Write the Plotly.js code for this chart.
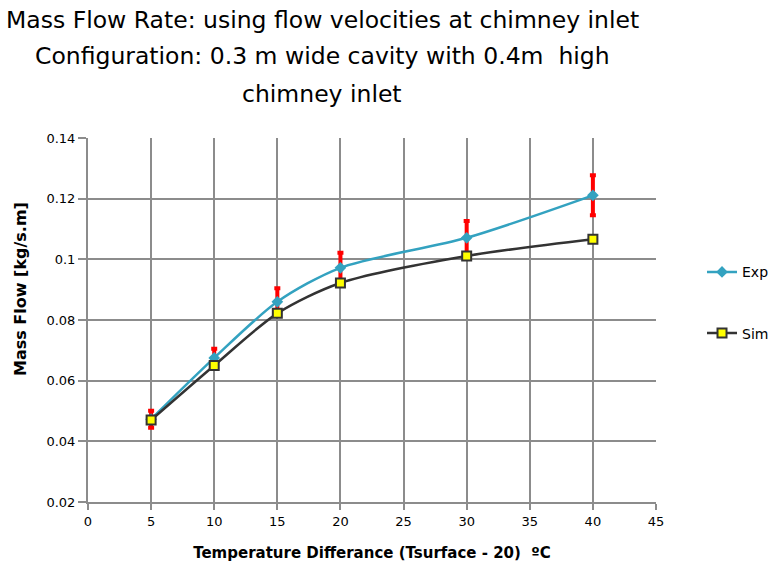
<!DOCTYPE html>
<html>
<head>
<meta charset="utf-8">
<script src="https://cdn.plot.ly/plotly-3.0.1.min.js"></script>
<style>body{margin:0;background:#fff}#chart{width:772px;height:571px}</style>
</head>
<body>
<div id="chart"></div>
<script>
const tempDiff = [5, 10, 15, 20, 30, 40];
const expFlow = [0.0473, 0.0675, 0.086, 0.0972, 0.1071, 0.1211];
const expErr = [0.0028, 0.003, 0.0045, 0.005, 0.0055, 0.0066];
const simFlow = [0.047, 0.065, 0.0822, 0.0922, 0.1011, 0.1066];
const titleLines = [
  'Mass Flow Rate: using flow velocities at chimney inlet',
  'Configuration: 0.3 m wide cavity with 0.4m  high',
  'chimney inlet'
];
const yTitle = 'Mass Flow [kg/s.m]';
const xTitle = 'Temperature Differance (Tsurface - 20)  ºC';

const FONT = 'DejaVu Sans, sans-serif';

const traces = [
  {
    x: tempDiff, y: expFlow, name: 'Exp', type: 'scatter', mode: 'lines+markers',
    legendgroup: 'a',
    line: {color: '#33a2c0', width: 2.5, shape: 'spline', smoothing: 0.8},
    marker: {symbol: 'diamond', size: 9, color: '#33a2c0'},
    error_y: {type: 'data', array: expErr, visible: true, color: '#ff0000', thickness: 4, width: 3}
  },
  {
    x: tempDiff, y: simFlow, name: 'Sim', type: 'scatter', mode: 'lines+markers',
    legendgroup: 'b',
    line: {color: '#333333', width: 2.5, shape: 'spline', smoothing: 0.8},
    marker: {symbol: 'square', size: 9, color: '#ffff00', line: {color: '#333333', width: 2}}
  }
];

const PW = 568, PH = 364, ML = 88, MB = 69, H = 571;
const titleY = [20, 56, 94];
const annotations = titleLines.map((t, i) => ({
  text: t, xref: 'paper', yref: 'paper',
  x: (322 - ML) / PW, y: (H - MB - titleY[i]) / PH,
  xanchor: 'center', yanchor: 'middle', showarrow: false,
  font: {size: 23.5, family: FONT, color: '#000'}
}));
annotations.push({
  text: '<b>' + yTitle + '</b>', xref: 'paper', yref: 'paper',
  x: (20 - ML) / PW, y: (H - MB - 289) / PH,
  xanchor: 'center', yanchor: 'middle', showarrow: false, textangle: -90,
  font: {size: 16, family: FONT, color: '#000'}
});

const layout = {
  width: 772, height: 571,
  paper_bgcolor: '#ffffff', plot_bgcolor: '#ffffff',
  margin: {l: 88, r: 116, t: 138, b: 69, autoexpand: false},
  font: {family: FONT, color: '#000'},
  annotations: annotations,
  xaxis: {
    range: [0, 45], dtick: 5, tick0: 0,
    showgrid: true, gridcolor: '#8c8c8c', gridwidth: 2,
    showline: true, linecolor: '#8c8c8c', linewidth: 2,
    ticks: 'outside', ticklen: 6, tickcolor: '#8c8c8c', tickwidth: 2,
    zeroline: false,
    tickfont: {size: 13, family: FONT},
    title: {text: '<b>' + xTitle + '</b>', font: {size: 15, family: FONT}, standoff: 20}
  },
  yaxis: {
    range: [0.02, 0.14], dtick: 0.02, tick0: 0,
    showgrid: true, gridcolor: '#8c8c8c', gridwidth: 2,
    showline: true, linecolor: '#8c8c8c', linewidth: 2,
    ticks: 'outside', ticklen: 8, tickcolor: '#8c8c8c', tickwidth: 2,
    zeroline: false,
    tickfont: {size: 13, family: FONT}
  },
  showlegend: true,
  legend: {
    x: 1.081, xanchor: 'left', y: 0.675, yanchor: 'top',
    font: {size: 14, family: FONT},
    traceorder: 'grouped', tracegroupgap: 40,
    bgcolor: 'rgba(0,0,0,0)'
  }
};

Plotly.newPlot('chart', traces, layout, {displayModeBar: false, staticPlot: true});
</script>
</body>
</html>
